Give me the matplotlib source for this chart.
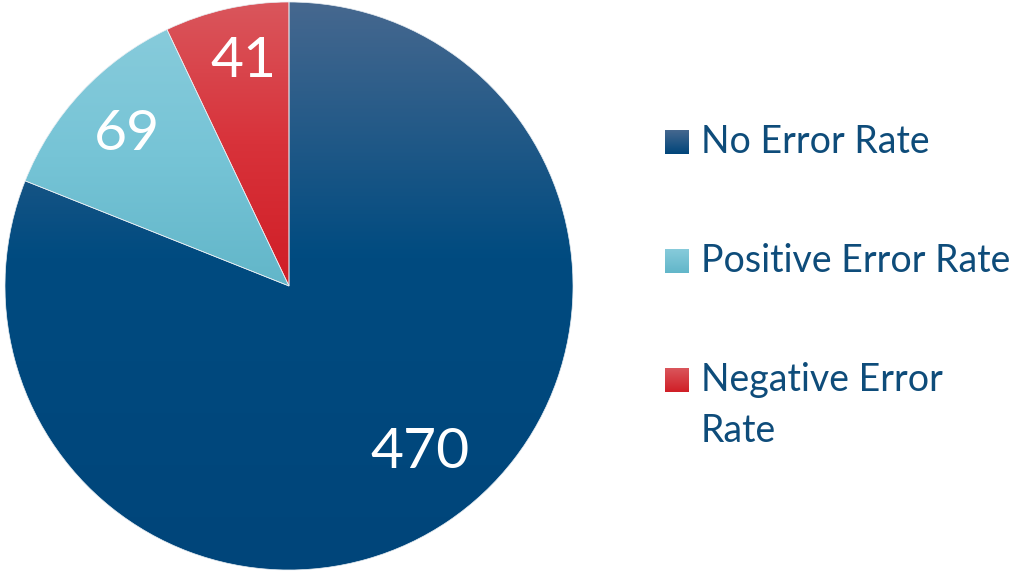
import matplotlib.pyplot as plt
import numpy as np
from matplotlib.colors import LinearSegmentedColormap

plt.rcParams['font.family'] = ['Lato', 'DejaVu Sans']

labels = ['No Error Rate', 'Positive Error Rate', 'Negative Error\nRate']
values = [470, 69, 41]
# gradient top -> bottom for each slice
grad_top = ['#46688f', '#87cbdb', '#da565c']
grad_mid = ['#004b80', '#76c4d6', '#d8323a']
grad_bot = ['#00457a', '#62b6c9', '#d01e26']
text_color = '#0e4c7a'

fig = plt.figure(figsize=(10.16, 5.72), dpi=100)
cx, cy, R = 289, 286, 284
ax = fig.add_axes([(cx - R) / 1016, (572 - cy - R) / 572, 2 * R / 1016, 2 * R / 572])

wedges, _ = ax.pie(values, startangle=90, counterclock=False, radius=1,
                   wedgeprops=dict(linewidth=0, alpha=0))

grad = np.linspace(0, 1, 256).reshape(-1, 1)
for i, (w, t, m, b) in enumerate(zip(wedges, grad_top, grad_mid, grad_bot)):
    bb = w.get_path().get_extents(w.get_transform() - ax.transData)
    stop = 0.45 if i == 0 else 0.5
    cmap = LinearSegmentedColormap.from_list('g', [(0, t), (stop, m), (1, b)])
    im = ax.imshow(grad, cmap=cmap, extent=[bb.x0, bb.x1, bb.y0, bb.y1],
                   aspect='auto', origin='upper', zorder=1)
    im.set_clip_path(w)

# thin separators between slices
ax.pie(values, startangle=90, counterclock=False, radius=1,
       wedgeprops=dict(linewidth=0.5, edgecolor='#e8eef3', facecolor='none'))

# value labels
pos = [(0.46, -0.585), (-0.572, 0.533), (-0.161, 0.79)]
for v, (x, y) in zip(values, pos):
    ax.text(x, y, str(v), color='white', fontsize=41,
            ha='center', va='center', zorder=5)

ax.set_xlim(-1, 1)
ax.set_ylim(-1, 1)
ax.set_aspect('equal')
ax.axis('off')

# legend drawn by hand
sq_y = [130, 249, 368]
txt_y = [153, 272, 391]
for lab, t, b, sy, ty in zip(labels, grad_top, grad_bot, sq_y, txt_y):
    sax = fig.add_axes([665 / 1016, 1 - (sy + 24) / 572, 24 / 1016, 24 / 572])
    cmap = LinearSegmentedColormap.from_list('g', [t, b])
    sax.imshow(grad, cmap=cmap, aspect='auto', extent=[0, 1, 0, 1])
    sax.axis('off')
    for k, line in enumerate(lab.split('\n')):
        fig.text(701 / 1016, 1 - (ty + 51 * k) / 572, line, color=text_color,
                 fontsize=27, ha='left', va='baseline')

fig.savefig('out.png', dpi=100)
